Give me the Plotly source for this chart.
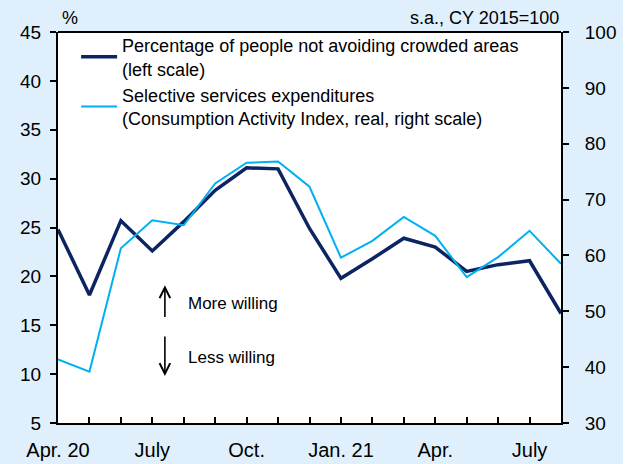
import plotly.graph_objects as go

months = ["Apr. 20", "May", "June", "July", "Aug.", "Sep.", "Oct.", "Nov.", "Dec.",
          "Jan. 21", "Feb.", "Mar.", "Apr.", "May", "June", "July", "Aug."]
tick_labels = ["Apr. 20", "", "", "July", "", "", "Oct.", "", "", "Jan. 21", "", "",
               "Apr.", "", "", "July", ""]
not_avoiding = [24.8, 18.1, 25.7, 22.6, 25.6, 28.8, 31.1, 31.0, 24.9,
                19.8, 21.8, 23.9, 23.0, 20.5, 21.2, 21.6, 16.2]
services = [41.4, 39.2, 61.3, 66.3, 65.4, 72.9, 76.6, 76.8, 72.3,
            59.6, 62.6, 66.9, 63.5, 56.1, 59.7, 64.4, 58.5]

x = list(range(len(months)))
FONT = "Arial, Liberation Sans, sans-serif"
BG = "#dff0fc"

fig = go.Figure()
fig.add_trace(go.Scatter(
    x=x, y=not_avoiding, mode="lines", yaxis="y",
    name="Percentage of people not avoiding crowded areas<br>(left scale)",
    line=dict(color="#0c2461", width=3.5)))
fig.add_trace(go.Scatter(
    x=x, y=services, mode="lines", yaxis="y2",
    name="Selective services expenditures<br>(Consumption Activity Index, real, right scale)",
    line=dict(color="#00b0f0", width=2)))

fig.update_layout(
    width=623, height=464,
    margin=dict(l=58, r=62, t=32, b=41, autoexpand=False),
    paper_bgcolor=BG, plot_bgcolor="white",
    font=dict(family=FONT, size=18, color="black"),
    showlegend=True,
    legend=dict(x=0.036, y=1.013, xanchor="left", yanchor="top",
                bgcolor="rgba(0,0,0,0)", font=dict(size=18),
                tracegroupgap=2, itemwidth=36),
    xaxis=dict(range=[0, 16], tickmode="array", tickvals=x, ticktext=tick_labels,
               ticks="inside", ticklen=6, tickwidth=2, tickcolor="black",
               showline=True, linecolor="black", linewidth=2, mirror=False,
               showgrid=False, zeroline=False, tickfont=dict(size=20),
               ticklabelstandoff=8, automargin=False),
    yaxis=dict(range=[5, 45], dtick=5, ticks="outside", ticklen=6, tickwidth=2,
               tickcolor="black", showline=True, linecolor="black", linewidth=2,
               showgrid=False, zeroline=False, tickfont=dict(size=19),
               ticklabelstandoff=5, automargin=False),
    yaxis2=dict(range=[30, 100], dtick=10, overlaying="y", side="right",
                ticks="outside", ticklen=6, tickwidth=2, tickcolor="black",
                showline=True, linecolor="black", linewidth=2,
                showgrid=False, zeroline=False, tickfont=dict(size=19),
                ticklabelstandoff=12, automargin=False),
)

# top frame line
fig.add_shape(type="line", xref="paper", yref="paper", x0=0, x1=1, y0=1, y1=1,
              line=dict(color="black", width=2))

fig.add_annotation(xref="paper", yref="paper", x=0.0, y=1.0, xshift=2, yshift=2,
                   text="%", showarrow=False, xanchor="left", yanchor="bottom",
                   font=dict(size=18))
fig.add_annotation(xref="paper", yref="paper", x=1.0, y=1.0, yshift=2,
                   text="s.a., CY 2015=100", showarrow=False, xanchor="right",
                   yanchor="bottom", font=dict(size=18))

# arrows
fig.add_annotation(x=3.40, y=19.1, ax=3.40, ay=15.7, xref="x", yref="y",
                   axref="x", ayref="y", text="", showarrow=True,
                   arrowhead=5, arrowsize=1.3, arrowwidth=1.6, arrowcolor="black")
fig.add_annotation(x=3.40, y=9.8, ax=3.40, ay=14.0, xref="x", yref="y",
                   axref="x", ayref="y", text="", showarrow=True,
                   arrowhead=5, arrowsize=1.3, arrowwidth=1.6, arrowcolor="black")
fig.add_annotation(x=4.07, y=17.2, xref="x", yref="y", text="More willing",
                   showarrow=False, xanchor="left", font=dict(size=17))
fig.add_annotation(x=4.07, y=11.75, xref="x", yref="y", text="Less willing",
                   showarrow=False, xanchor="left", font=dict(size=17))

fig.write_html("out.html", config={"displayModeBar": False},
               post_script="document.body.style.margin='0';document.body.style.background='white';")
